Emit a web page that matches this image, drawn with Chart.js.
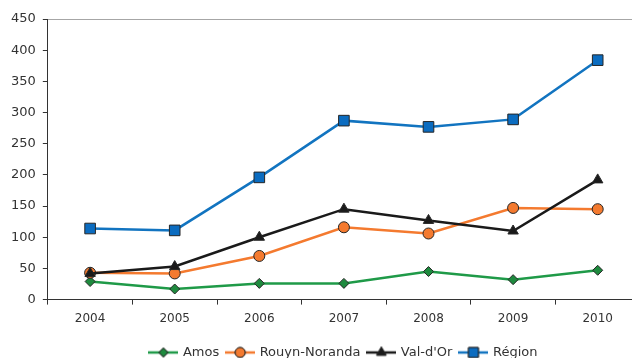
<!DOCTYPE html>
<html>
<head>
<meta charset="utf-8">
<script src="https://cdn.jsdelivr.net/npm/chart.js@4/dist/chart.umd.min.js"></script>
<style>
  html, body { margin: 0; padding: 0; background: #fff; overflow: hidden; }
  #wrap { width: 684px; height: 369px; }
</style>
</head>
<body>
<div id="wrap"><canvas id="chart" width="684" height="369"></canvas></div>
<script>
// Years on the horizontal axis
const years = ['2004', '2005', '2006', '2007', '2008', '2009', '2010'];

// Series values per year
const amos = [29, 17, 26, 26, 45, 32, 47];
const rouynNoranda = [43, 42, 70, 116, 106, 147, 145];
const valDOr = [42, 53, 100, 145, 127, 110, 192];
const region = [114, 111, 196, 287, 277, 289, 384];

// Vertical axis tick values
const yTicks = [0, 50, 100, 150, 200, 250, 300, 350, 400, 450];

const FONT = '"DejaVu Sans", Verdana, sans-serif';
const TEXT = '#333333';

// Small legend swatch: a line segment with the series marker in its middle
function swatch(lineColor, fillColor, style, r) {
  const c = document.createElement('canvas');
  c.width = 30; c.height = 16;
  const g = c.getContext('2d');
  g.strokeStyle = lineColor;
  g.lineWidth = 2.5;
  g.beginPath(); g.moveTo(0, 8); g.lineTo(30, 8); g.stroke();
  g.fillStyle = fillColor;
  g.strokeStyle = '#262626';
  g.lineWidth = 1;
  Chart.helpers.drawPoint(g, { pointStyle: style, radius: r, borderWidth: 1 }, 15, 8);
  g.fill(); g.stroke();
  return c;
}

const series = [
  { label: 'Amos', data: amos, line: '#1f9a48', fill: '#1e8a3e', style: 'rectRot', r: 5, order: 4 },
  { label: 'Rouyn-Noranda', data: rouynNoranda, line: '#f47a2f', fill: '#f47a2f', style: 'circle', r: 5.5, order: 3 },
  { label: "Val-d'Or", data: valDOr, line: '#1a1a1a', fill: '#1a1a1a', style: 'triangle', r: 6, order: 2 },
  { label: 'Région', data: region, line: '#1274c0', fill: '#0b6cc0', style: 'rect', r: 7.5, order: 1 }
];

const datasets = series.map(s => ({
  label: s.label,
  data: s.data,
  order: s.order,
  borderColor: s.line,
  borderWidth: 2.5,
  tension: 0,
  pointStyle: s.style,
  pointRadius: s.r,
  pointHoverRadius: s.r,
  pointBackgroundColor: s.fill,
  pointBorderColor: '#262626',
  pointBorderWidth: 1,
  legendSwatch: swatch(s.line, s.fill, s.style, s.r - 0.5)
}));

new Chart(document.getElementById('chart'), {
  type: 'line',
  data: { labels: years, datasets },
  options: {
    responsive: false,
    animation: false,
    layout: { padding: { left: 4, right: 44, top: 19, bottom: 0 } },
    plugins: {
      tooltip: { enabled: false },
      legend: {
        position: 'bottom',
        fullSize: false,
        labels: {
          font: { family: FONT, size: 13 },
          color: TEXT,
          usePointStyle: true,
          pointStyleWidth: 26,
          padding: 8,
          sort: (a, b) => a.datasetIndex - b.datasetIndex,
          generateLabels: chart => chart.data.datasets.map((ds, i) => ({
            text: ds.label,
            datasetIndex: i,
            pointStyle: ds.legendSwatch,
            fillStyle: ds.borderColor,
            strokeStyle: ds.borderColor,
            lineWidth: 0,
            fontColor: TEXT,
            hidden: false
          }))
        }
      }
    },
    scales: {
      x: {
        type: 'category',
        offset: true,
        afterFit: axis => { axis.height += 5; },
        grid: {
          offset: true,
          color: 'rgba(0,0,0,0)',
          tickColor: '#333333',
          tickLength: 5,
          drawOnChartArea: false
        },
        border: { color: '#333333', width: 1 },
        ticks: { font: { family: FONT, size: 12 }, color: TEXT, padding: 7 }
      },
      y: {
        min: 0,
        max: 450,
        afterBuildTicks: axis => { axis.ticks = yTicks.map(v => ({ value: v })); },
        grid: {
          color: ctx => (ctx.tick && ctx.tick.value === 450) ? '#a6a6a6' : 'rgba(0,0,0,0)',
          tickColor: '#333333',
          tickLength: 5,
          lineWidth: 1
        },
        border: { color: '#333333', width: 1 },
        ticks: { font: { family: FONT, size: 13 }, color: TEXT, padding: 7 }
      }
    }
  }
});
</script>
</body>
</html>
